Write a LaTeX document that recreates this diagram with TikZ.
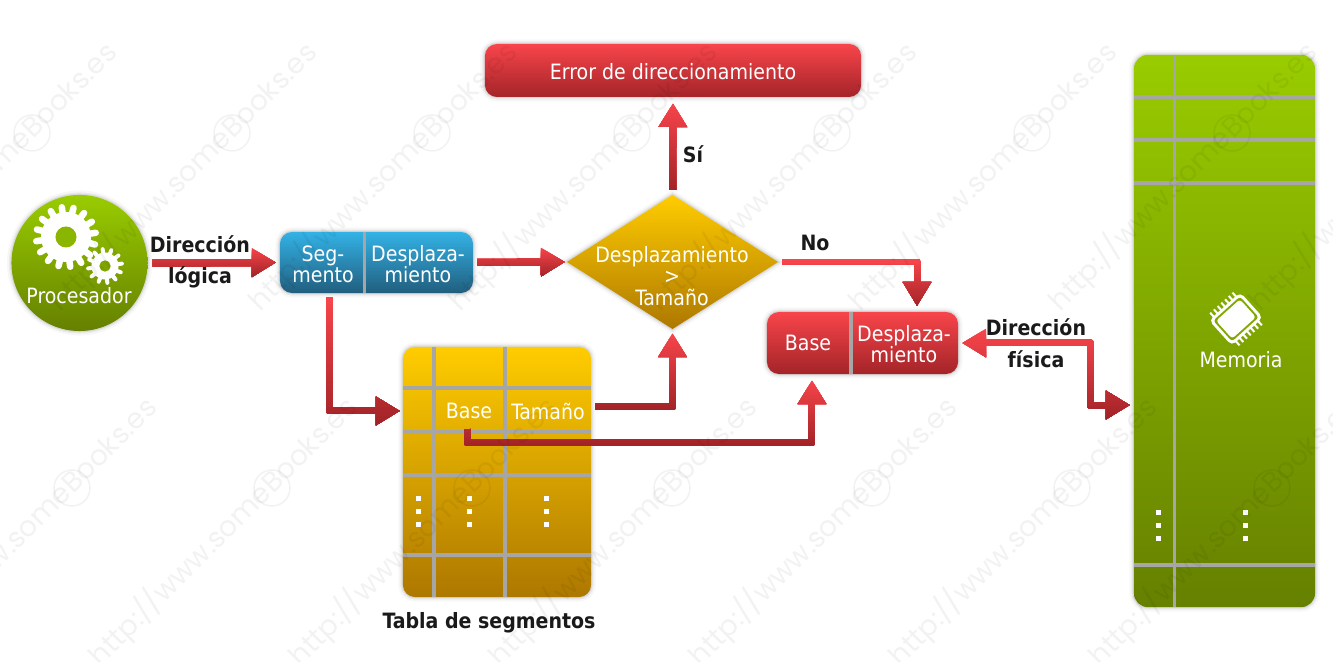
\documentclass[tikz,border=0pt]{standalone}
\usepackage{fontspec}
\setmainfont{DejaVu Sans Condensed}
\newfontfamily\wmfont{Poppins}
\usetikzlibrary{arrows.meta,calc,shapes.geometric}
\definecolor{arrowlight}{HTML}{F8454B}
\definecolor{arrowdark}{HTML}{A32428}
\definecolor{memtop}{HTML}{99CC00}
\definecolor{membot}{HTML}{668000}
\definecolor{tabtop}{HTML}{FFCC00}
\definecolor{tabbot}{HTML}{AD7800}
\definecolor{segtop}{HTML}{33B2E5}
\definecolor{segbot}{HTML}{215E7E}
\definecolor{divgray}{HTML}{A6A6A6}
\definecolor{labelblack}{HTML}{1A1A1A}
\tikzset{
	glow/.style={preaction={draw=black,draw opacity=.03,line width=.09cm},preaction={draw=black,draw opacity=.05,line width=.05cm},preaction={draw=black,draw opacity=.07,line width=.025cm}},
	box/.style={glow,rectangle,rounded corners=.12cm,inner sep=0,outer sep=0,text=white},
	redbox/.style={box,top color=arrowlight,bottom color=arrowdark},
	txt/.style={text=white,inner sep=0,align=center,font=\fontsize{6}{6}\selectfont},
	lbl/.style={text=labelblack,inner sep=0,align=center,font=\fontsize{6}{9}\selectfont\bfseries},
	conn/.style={line width=.07cm,line join=round,{Triangle[width=.27cm,length=.24cm]}-{Triangle[width=.27cm,length=.24cm]}},
	connto/.style={line width=.07cm,line join=round,-{Triangle[width=.27cm,length=.24cm]}},
	divider/.style={divgray,line width=.034cm},
	dot/.style={fill=white},
	wmtext/.style={rotate=45,anchor=base east,text=black,text opacity=.05,inner sep=0,font=\wmfont\fontsize{8}{8}\selectfont}
}
% stroke with a vertical gradient, painted band by band
\def\gradconn[#1](#2:#3)#4{
	\foreach \i in {0,...,29}{
		\begin{scope}
			\pgfmathsetmacro\ycut{#2+(#3-#2)*\i/30}
			\pgfmathsetmacro\pct{100*\i/29}
			\clip (0,\ycut) rectangle (1333,#3+2);
			\draw[draw=arrowdark!\pct!arrowlight,#1] #4;
		\end{scope}
	}
}
\def\gear(#1)(#2:#3:#4:#5)#6{
	\fill[white] (#1) circle (#2cm);
	\foreach \a in {1,...,#4}{
		\draw[white,line width=#5cm,line cap=round] (#1) -- ++({\a*360/#4+8}:#3cm);
	}
	\fill[#6] (#1) circle (#2cm*0.42);
}
\def\dots(#1)(#2){
	\foreach \yy in {0,13,26}{
		\fill[dot] (#1-2.5,#2+\yy-2.5) rectangle (#1+2.5,#2+\yy+2.5);
	}
}
\def\wmark#1(#2,#3){
	\node[wmtext] (wm#1) at (#2+2,#3+6) {http://www.someBooks.es};
	\draw[black,opacity=.05,line width=.015cm] (#2-85,#3+85) circle (.18cm);
}

\begin{document}
\begin{tikzpicture}[x=.01cm,y=-.01cm]
	\useasboundingbox (0,0) rectangle (1333,662);
	%%%%% BOXES %%%%%
	\node[glow,circle,inner sep=0,outer sep=0,minimum size=1.36cm,top color=memtop,bottom color=membot] (proc) at (79.5,263) {};
	\gear(66,237)(.25:.30:16:.065){memtop!70!membot}
	\gear(105,266)(.135:.17:12:.04){memtop!48!membot}
	\node[txt] (proclbl) at (79,295.5) {Procesador};

	\node[box,top color=segtop,bottom color=segbot,minimum width=1.93cm,minimum height=.61cm] (segbox) at (376.5,262.5) {};
	\draw[divider] (364.5,232) -- (364.5,293);
	\node[txt] (seglbl) at (323,264) {Seg-\\mento};
	\node[txt] (offlbl) at (418,264) {Desplaza-\\miento};

	\node[redbox,minimum width=3.76cm,minimum height=.53cm] (err) at (673,70.5) {};
	\node[txt] (errlbl) at (673,71.5) {Error de direccionamiento};

	\node[glow,diamond,aspect=1.575,inner sep=0,outer sep=0,minimum width=2.11cm,minimum height=1.34cm,top color=tabtop,bottom color=tabbot] (dec) at (672.5,262) {};
	\node[txt,font=\fontsize{6}{6.1}\selectfont] (declbl) at (672,276) {Desplazamiento\\>\\Tamaño};

	\node[redbox,minimum width=1.91cm,minimum height=.62cm] (addr) at (862.5,343) {};
	\draw[divider] (851,312) -- (851,374);
	\node[txt] (addrbase) at (808,343) {Base};
	\node[txt] (addroff) at (904,344) {Desplaza-\\miento};

	%%%%% SEGMENT TABLE %%%%%
	\node[box,top color=tabtop,bottom color=tabbot,minimum width=1.88cm,minimum height=2.50cm] (table) at (497,472) {};
	\foreach \xx in {434,505}{
		\draw[divider] (\xx,347) -- (\xx,597);
	}
	\foreach \yy in {388,432,475,555}{
		\draw[divider] (403,\yy) -- (591,\yy);
	}
	\node[txt] (tabbase) at (469,411) {Base};
	\node[txt] (tabsize) at (548,411) {Tamaño};
	\dots(418)(499)
	\dots(469)(499)
	\dots(546)(499)
	\node[lbl] (tablbl) at (489,623) {Tabla de segmentos};

	%%%%% MEMORY %%%%%
	\node[box,rounded corners=.14cm,top color=memtop,bottom color=membot,minimum width=1.81cm,minimum height=5.52cm] (mem) at (1224.5,331) {};
	\draw[divider] (1174.5,55) -- (1174.5,607);
	\foreach \yy in {97,140,183,565}{
		\draw[divider] (1134,\yy) -- (1315,\yy);
	}
	\dots(1158)(513)
	\dots(1245)(513)
	\begin{scope}[shift={(1236,319)},x=.01cm,y=.01cm,rotate=42]
		\foreach \xx in {-15,-10,...,15}{
			\draw[white,line width=.02cm] (\xx,-22) -- (\xx,22);
		}
		\fill[white,rounded corners=.05cm] (-21,-17) rectangle (21,17);
		\fill[memtop!52!membot,rounded corners=.03cm] (-18,-14) rectangle (18,14);
		\fill[white,rounded corners=.03cm] (-16,-12) rectangle (16,12);
	\end{scope}
	\node[txt] (memlbl) at (1241,360) {Memoria};

	%%%%% CONNECTORS %%%%%
	\gradconn[connto,shorten <=.05cm,shorten >=.04cm](248:277){(proc.east) -- (segbox.west)}
	\gradconn[connto,shorten <=.04cm,shorten >=.02cm](248:277){(segbox.east) -- (dec.west)}
	\gradconn[connto,shorten <=.05cm,shorten >=.06cm](102:191){(dec.north) -- (err.south)}
	\gradconn[connto,shorten <=.04cm,shorten >=.06cm](260:307){(dec.east) -| ([xshift=.545cm]addr.north)}
	\gradconn[connto,shorten <=.04cm,shorten >=.03cm](296:425){([xshift=-.47cm]segbox.south) |- ([yshift=.61cm]table.west)}
	\gradconn[connto,shorten <=.04cm,shorten >=.04cm](332:411){([yshift=.65cm]table.east) -| (dec.south)}
	\gradconn[connto,shorten <=.09cm,shorten >=.06cm](379:446){([xshift=-.02cm]tabbase.south) -- ++(0,23) -| ([xshift=-.505cm]addr.south)}
	\gradconn[conn,shorten <=.04cm,shorten >=.04cm](329:419){(addr.east) -- ++(132,0) |- ([yshift=-.74cm]mem.west)}

	%%%%% LABELS %%%%%
	\node[lbl] (dirlog) at (200,262) {Dirección\\lógica};
	\node[lbl] (yeslbl) at (693,154) {Sí};
	\node[lbl] (nolbl) at (815,243) {No};
	\node[lbl] (dirfis) at (1036,343) {Dirección\\física};

	%%%%% WATERMARK %%%%%
	\begin{scope}
		\clip (0,0) rectangle (1333,662);
		\foreach \k in {0,...,7}{
			\wmark{a\k}(117+200*\k,48)
		}
		\foreach \k in {0,...,6}{
			\wmark{b\k}(157+200*\k,403)
		}
	\end{scope}
\end{tikzpicture}
\end{document}
